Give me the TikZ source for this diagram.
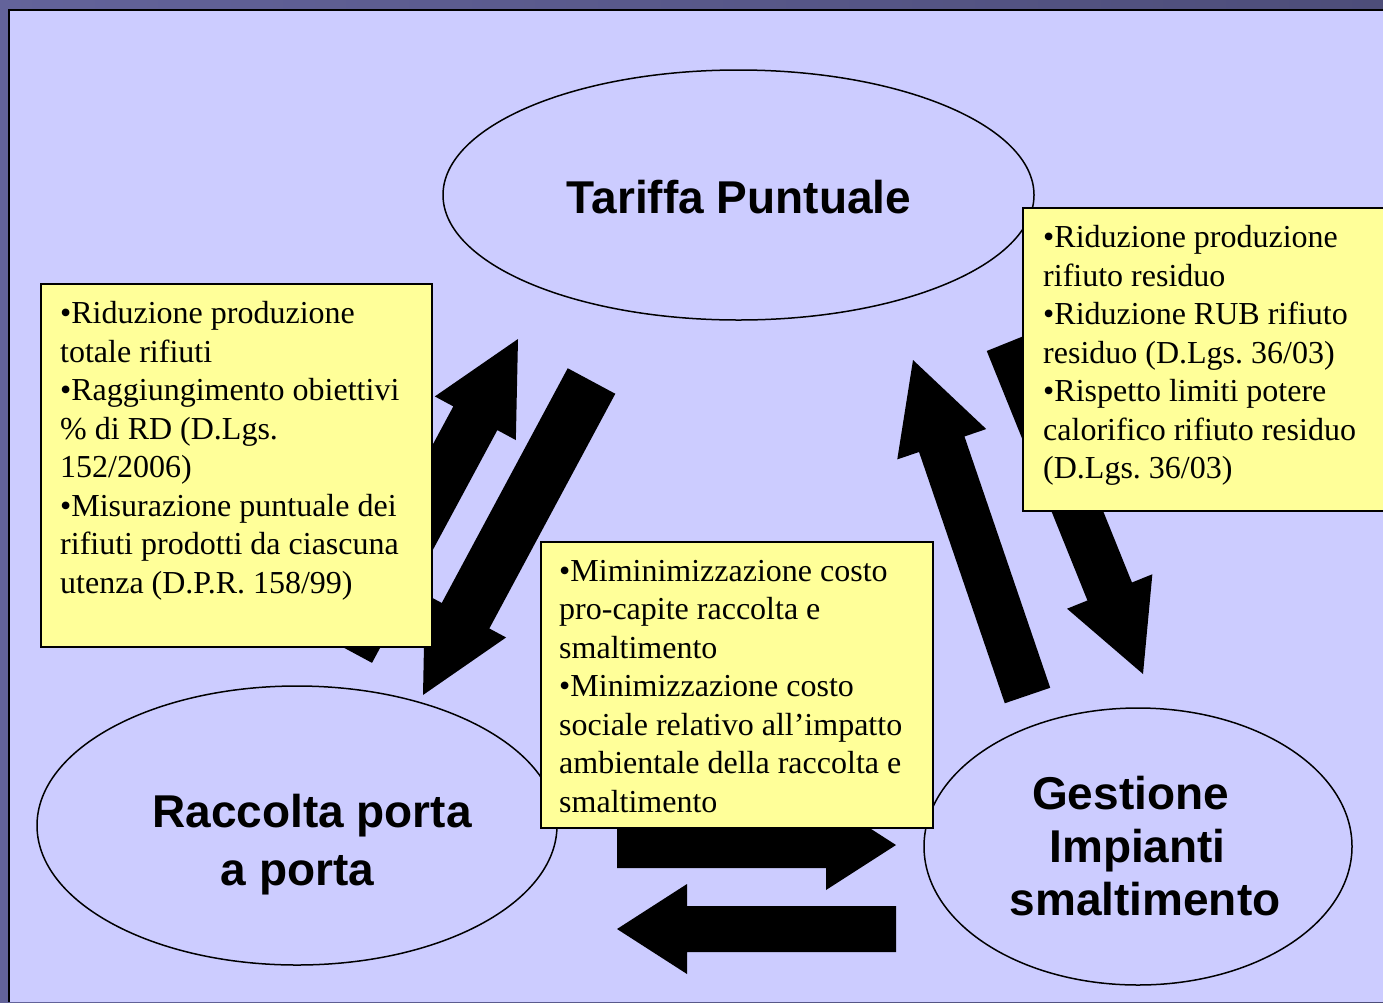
\documentclass[tikz,border=0pt]{standalone}
\usepackage{fontspec}
\setmainfont{Liberation Serif}
\newfontfamily\titlefont{Liberation Sans}
\usetikzlibrary{calc,shapes.geometric}

\definecolor{fondo}{HTML}{CCCCFF}
\definecolor{corniceA}{HTML}{63639A}
\definecolor{corniceB}{HTML}{4D4D79}
\definecolor{giallo}{HTML}{FFFF99}

% freccia piena: coda, punta, mezza larghezza, mezza larghezza punta, lunghezza punta
\newcommand{\freccia}[5]{%
  \coordinate (fb) at ($(#2)!#5!(#1)$);
  \path[fill=black] ($(#1)!#3!90:(#2)$) -- ($(fb)!#3!-90:(#1)$) -- ($(fb)!#4!-90:(#1)$)
    -- (#2) -- ($(fb)!#4!90:(#1)$) -- ($(fb)!#3!90:(#1)$) -- ($(#1)!#3!-90:(#2)$) -- cycle;
}

\begin{document}
\frenchspacing
\begin{tikzpicture}[x=1pt,y=-1pt,
    ovale/.style={ellipse,draw=black,line width=1.5pt,inner sep=0},
    titolo/.style={font=\titlefont\bfseries\fontsize{46}{53}\selectfont,align=center,inner sep=0},
    nota/.style={draw=black,line width=2pt,fill=giallo,inner sep=0,anchor=north west},
    testo/.style={font=\fontsize{32}{38.5}\selectfont,align=left,inner sep=0,anchor=north west}]
   \useasboundingbox (0,0) rectangle (1383,1002);
   \clip (0,0) rectangle (1383,1002);

   % sfondo
   \shade[left color=corniceA,right color=corniceB] (0,0) rectangle (1383,1002);
   \path[fill=fondo] (10,11) rectangle (1383,1002);
   \draw[line width=2pt] (9,1002) -- (9,10) -- (1383,10);

   % ellissi
   \node[ovale,minimum width=591pt,minimum height=250pt] (tariffa) at (738.5,195) {};
   \node[ovale,minimum width=520pt,minimum height=279pt] (raccolta) at (297,825.5) {};
   \node[ovale,minimum width=428pt,minimum height=277pt] (gestione) at (1138,846.5) {};
   \node[titolo,anchor=base] (ttariffa) at (739,213) {Tariffa Puntuale};
   \node[titolo,anchor=north,font=\titlefont\bfseries\fontsize{46}{58}\selectfont] (traccolta) at (312,794)
     {Raccolta porta\\a porta\kern29pt};
   \node[titolo,anchor=north] (tgestione) at (1145,775.5)
     {Gestione\kern29pt\\Impianti\kern15pt\\smaltimento};

   % frecce
   \coordinate (rt0) at (350,651);    \coordinate (rt1) at (518,339);
   \coordinate (tr0) at (591.5,381);  \coordinate (tr1) at (423,695);
   \coordinate (gt0) at (1027.5,695.5); \coordinate (gt1) at (913,360);
   \coordinate (tg0) at (1009,342);   \coordinate (tg1) at (1143,674);
   \coordinate (rg0) at (617,845);    \coordinate (rg1) at (896,845);
   \coordinate (gr0) at (896,929);    \coordinate (gr1) at (617,929);
   \freccia{rt0}{rt1}{25pt}{46pt}{90pt}
   \freccia{tr0}{tr1}{27pt}{46pt}{90pt}
   \freccia{gt0}{gt1}{24pt}{47pt}{89pt}
   \freccia{tg0}{tg1}{24pt}{46pt}{89pt}
   \freccia{rg0}{rg1}{23pt}{45pt}{70pt}
   \freccia{gr0}{gr1}{23pt}{45pt}{70pt}

   % riquadri
   \node[nota,minimum width=391pt,minimum height=363pt] (nsx) at (40,283) {};
   \node[nota,minimum width=364pt,minimum height=303pt] (ndx) at (1022,207) {};
   \node[nota,minimum width=392pt,minimum height=286pt] (ncentro) at (540,541) {};
   \node[testo] (tsx) at ($(nsx.north west)+(20,18.5)$) {%
     •Riduzione produzione\\totale rifiuti\\•Raggiungimento obiettivi\\\% di RD (D.Lgs.\\152/2006)\\%
     •Misurazione puntuale dei\\rifiuti prodotti da ciascuna\\utenza (D.P.R. 158/99)};
   \node[testo] (tdx) at ($(ndx.north west)+(21,18.5)$) {%
     •Riduzione produzione\\rifiuto residuo\\•Riduzione RUB rifiuto\\residuo (D.Lgs. 36/03)\\%
     •Rispetto limiti potere\\calorifico rifiuto residuo\\(D.Lgs. 36/03)};
   \node[testo] (tcentro) at ($(ncentro.north west)+(19,19)$) {%
     •Miminimizzazione costo\\pro-capite raccolta e\\smaltimento\\•Minimizzazione costo\\%
     sociale relativo all’impatto\\ambientale della raccolta e\\smaltimento};
\end{tikzpicture}
\end{document}
